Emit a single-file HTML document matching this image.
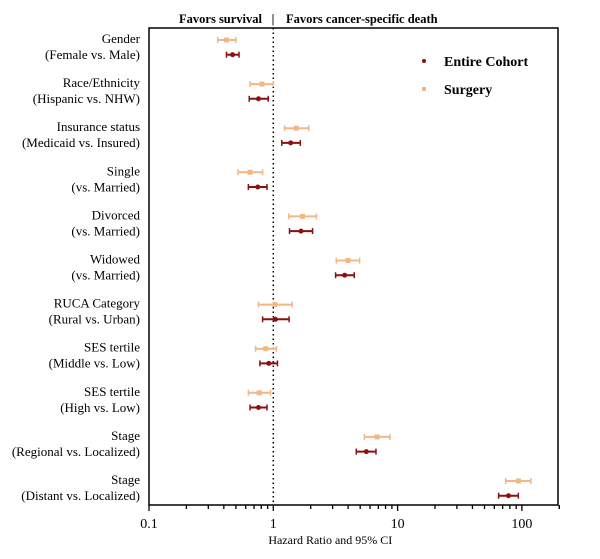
<!DOCTYPE html>
<html><head><meta charset="utf-8"><style>
body{margin:0;background:#fff;}
svg{display:block;font-family:"Liberation Serif",serif;}
</style></head><body>
<svg id="chart" width="600" height="559" viewBox="0 0 600 559"></svg>
<script>
const labels1 = ["Gender","Race/Ethnicity","Insurance status","Single","Divorced","Widowed","RUCA Category","SES tertile","SES tertile","Stage","Stage"];
const labels2 = ["(Female vs. Male)","(Hispanic vs. NHW)","(Medicaid vs. Insured)","(vs. Married)","(vs. Married)","(vs. Married)","(Rural vs. Urban)","(Middle vs. Low)","(High vs. Low)","(Regional vs. Localized)","(Distant vs. Localized)"];
const surgHR = [0.42,0.81,1.53,0.65,1.72,3.99,1.03,0.87,0.77,6.83,93.6];
const surgLo = [0.357,0.65,1.23,0.52,1.33,3.21,0.76,0.72,0.63,5.4,74];
const surgHi = [0.50,1.0,1.93,0.82,2.22,4.95,1.42,1.06,0.95,8.7,118];
const entHR = [0.47,0.76,1.38,0.75,1.67,3.75,1.04,0.92,0.76,5.6,78];
const entLo = [0.42,0.64,1.17,0.63,1.35,3.17,0.82,0.78,0.65,4.65,65];
const entHi = [0.53,0.91,1.65,0.89,2.07,4.48,1.34,1.08,0.89,6.7,93.6];
const majorTicks = [0.1,1,10,100];
const tickLabels = ["0.1","1","10","100"];

const NS="http://www.w3.org/2000/svg";
const svg=document.getElementById('chart');
const L=149,R=558,T=28,B=505;
function xs(v){return 273.3+124.3*Math.log10(v);}
function ys(i){return 40+44.1*i;}
function mk(tag,attrs,parent){const e=document.createElementNS(NS,tag);for(const k in attrs)e.setAttribute(k,attrs[k]);(parent||svg).appendChild(e);return e;}

const frame=mk('rect',{x:L,y:T,width:R-L,height:B-T,fill:'none',stroke:'#000','stroke-width':1.5});


const ref=mk('line',{x1:xs(1),x2:xs(1),y1:T,y2:B,stroke:'#000','stroke-width':1.5,'stroke-dasharray':'1.5,3'});



for(let d=0.1;d<200;d*=10){for(let m=1;m<10;m++){const v=d*m;if(v>200)break;const x=xs(v);
const t=mk('line',{x1:x,x2:x,y1:B,y2:B+(m===1?6:4),stroke:'#000','stroke-width':1.3});

}}
const tEnd=mk('line',{x1:xs(200),x2:xs(200),y1:B,y2:B+4,stroke:'#000','stroke-width':1.3});
majorTicks.forEach((v,i)=>{const t=mk('text',{x:xs(v),y:528,'text-anchor':'middle','font-size':14});t.textContent=tickLabels[i];

});
const xt=mk('text',{x:xs(1)+57,y:544,'text-anchor':'middle','font-size':12});xt.textContent='Hazard Ratio and 95% CI';



const h1=mk('text',{x:262,y:23,'text-anchor':'end','font-size':12.5,'font-weight':'bold'});h1.textContent='Favors survival';


const h2=mk('text',{x:273,y:23,'text-anchor':'middle','font-size':12.5,'font-weight':'bold'});h2.textContent='|';


const h3=mk('text',{x:286,y:23,'font-size':12.5,'font-weight':'bold'});h3.textContent='Favors cancer-specific death';



function series(hr,lo,hi,color,off,name,square){
 hr.forEach((v,i)=>{const y=ys(i)+off;const g=mk('g',{});
 
 
 mk('line',{x1:xs(lo[i]),x2:xs(hi[i]),y1:y,y2:y,stroke:color,'stroke-width':2},g);
 mk('line',{x1:xs(lo[i]),x2:xs(lo[i]),y1:y-3,y2:y+3,stroke:color,'stroke-width':1.5},g);
 mk('line',{x1:xs(hi[i]),x2:xs(hi[i]),y1:y-3,y2:y+3,stroke:color,'stroke-width':1.5},g);
 if(square)mk('rect',{x:xs(v)-2.5,y:y-2.5,width:5,height:5,fill:color},g);
 else mk('circle',{cx:xs(v),cy:y,r:2.5,fill:color},g);});
}
series(surgHR,surgLo,surgHi,'#f0b887',0,'surgery',true);
series(entHR,entLo,entHi,'#8b1111',14.7,'entire-cohort',false);

labels1.forEach((s,i)=>{const y=ys(i);
const a=mk('text',{x:140,y:y+3,'text-anchor':'end','font-size':13});a.textContent=s;


const b=mk('text',{x:140,y:y+19,'text-anchor':'end','font-size':13});b.textContent=labels2[i];

});

const lg=mk('g',{});


mk('circle',{cx:424,cy:61,r:2,fill:'#8b1111'},lg);
const l1=mk('text',{x:444,y:66,'font-size':14,'font-weight':'bold'},lg);l1.textContent='Entire Cohort';


mk('rect',{x:422,y:87,width:4,height:4,fill:'#f0b887'},lg);
const l2=mk('text',{x:444,y:94,'font-size':14,'font-weight':'bold'},lg);l2.textContent='Surgery';


</script>
</body></html>
